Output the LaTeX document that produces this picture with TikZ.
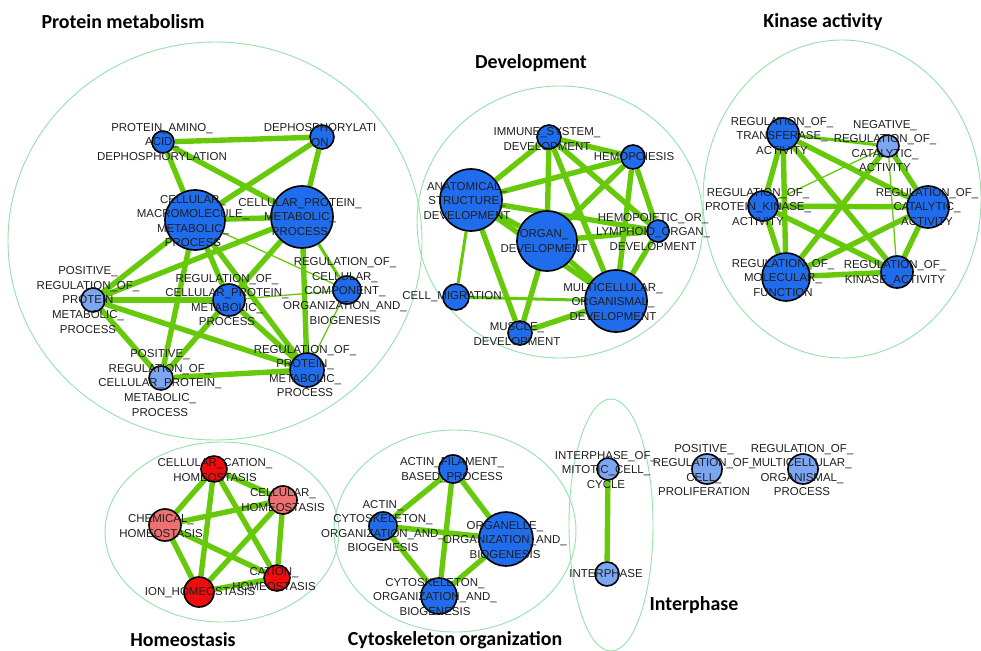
\documentclass[tikz,border=0pt]{standalone}
\usepackage{fontspec}
\setmainfont{Liberation Sans}
\newfontfamily\ttlfont{Carlito}
\usepackage{tikz}
\pgfdeclarelayer{bg}
\pgfsetlayers{bg,main}
\definecolor{dkblue}{RGB}{31,108,236}
\definecolor{ltblue}{RGB}{124,166,242}
\definecolor{dkred}{RGB}{238,12,12}
\definecolor{ltred}{RGB}{238,112,112}
\definecolor{edgegreen}{RGB}{102,202,10}
\definecolor{ringgreen}{RGB}{150,226,172}
\definecolor{txtgray}{RGB}{30,30,30}
\tikzset{
    gnode/.style={circle,draw=black,line width=1.4pt,inner sep=0pt,minimum size=#1*0.06cm},
    dk/.style={gnode=#1,fill=dkblue},
    lt/.style={gnode=#1,fill=ltblue},
    rd/.style={gnode=#1,fill=dkred},
    pk/.style={gnode=#1,fill=ltred},
    lb/.style={align=center,inner sep=0pt,text=txtgray,font=\fontsize{9.8}{12.4}\selectfont},
    ttl/.style={inner sep=0pt,font=\ttlfont\bfseries\fontsize{17}{20}\selectfont},
    fat/.style={edgegreen,line width=4.6pt},
    mid/.style={edgegreen,line width=2.6pt},
    slim/.style={edgegreen,line width=1.1pt},
    ring/.style={ringgreen,line width=0.8pt}
}

\begin{document}
\begin{tikzpicture}[x=0.03cm,y=-0.03cm]
\useasboundingbox (0,0) rectangle (981,651);
% cluster titles
\node (tprot) at (123,22)[ttl]{Protein metabolism};
\node (tdev) at (531,63)[ttl]{Development};
\node (tkin) at (823,22)[ttl]{Kinase activity};
\node (thom) at (183,640)[ttl]{Homeostasis};
\node (tcyt) at (455,640)[ttl]{Cytoskeleton organization};
\node (tint) at (694,605)[ttl]{Interphase};

% protein metabolism
\node (paad) at (163,142)[dk=11]{};
\node (deph) at (322,137)[dk=12]{};
\node (cmmp) at (195,220)[dk=30]{};
\node (cpmp) at (302,217)[dk=31]{};
\node (rccob) at (347,290)[dk=14]{};
\node (prpmp) at (93,300)[lt=12]{};
\node (rcpmp) at (229,300)[dk=16]{};
\node (prcpmp) at (161,378)[lt=12]{};
\node (rpmp) at (307,370)[dk=17]{};
\node (paad-l) at (162,142)[lb]{PROTEIN\_AMINO\_\\ACID\_\\DEPHOSPHORYLATION};
\node (deph-l) at (320,135)[lb]{DEPHOSPHORYLATI\\ON};
\node (cmmp-l) at (193,221)[lb]{CELLULAR\_\\MACROMOLECULE\_\\METABOLIC\_\\PROCESS};
\node (cpmp-l) at (300,217)[lb]{CELLULAR\_PROTEIN\_\\METABOLIC\_\\PROCESS};
\node (rccob-l) at (345,291)[lb]{REGULATION\_OF\_\\CELLULAR\_\\COMPONENT\_\\ORGANIZATION\_AND\_\\BIOGENESIS};
\node (prpmp-l) at (88,300)[lb]{POSITIVE\_\\REGULATION\_OF\_\\PROTEIN\\METABOLIC\_\\PROCESS};
\node (rcpmp-l) at (227,300)[lb]{REGULATION\_OF\_\\CELLULAR\_PROTEIN\_\\METABOLIC\_\\PROCESS};
\node (prcpmp-l) at (160,383)[lb]{POSITIVE\_\\REGULATION\_OF\_\\CELLULAR\_PROTEIN\_\\METABOLIC\_\\PROCESS};
\node (rpmp-l) at (305,371)[lb]{REGULATION\_OF\_\\PROTEIN\_\\METABOLIC\_\\PROCESS};

% development
\node (isd) at (549,137)[dk=12]{};
\node (hem) at (633,157)[dk=12]{};
\node (asd) at (471,200)[dk=31]{};
\node (org) at (547,241)[dk=30]{};
\node (holod) at (658,231)[dk=11]{};
\node (cm) at (456,297)[dk=13]{};
\node (mod) at (616,301)[dk=31]{};
\node (mus) at (520,333)[dk=12]{};
\node (isd-l) at (547,139)[lb]{IMMUNE\_SYSTEM\_\\DEVELOPMENT};
\node (hem-l) at (634,157)[lb]{HEMOPOIESIS};
\node (asd-l) at (467,201)[lb]{ANATOMICAL\_\\STRUCTURE\_\\DEVELOPMENT};
\node (org-l) at (544,241)[lb]{ORGAN\_\\DEVELOPMENT};
\node (holod-l) at (653,232)[lb]{HEMOPOIETIC\_OR\_\\LYMPHOID\_ORGAN\_\\DEVELOPMENT};
\node (cm-l) at (452,297)[lb]{CELL\_MIGRATION};
\node (mod-l) at (613,302)[lb]{MULTICELLULAR\_\\ORGANISMAL\_\\DEVELOPMENT};
\node (mus-l) at (517,334)[lb]{MUSCLE\_\\DEVELOPMENT};

% kinase activity
\node (rta) at (783,134)[dk=16]{};
\node (nrca) at (888,146)[lt=11]{};
\node (rpka) at (763,206)[dk=15]{};
\node (rca) at (928,207)[dk=21]{};
\node (rmf) at (786,277)[dk=24]{};
\node (rka) at (897,272)[dk=16]{};
\node (rta-l) at (782,136)[lb]{REGULATION\_OF\_\\TRANSFERASE\_\\ACTIVITY};
\node (nrca-l) at (885,146)[lb]{NEGATIVE\_\\REGULATION\_OF\_\\CATALYTIC\_\\ACTIVITY};
\node (rpka-l) at (758,207)[lb]{REGULATION\_OF\_\\PROTEIN\_KINASE\_\\ACTIVITY};
\node (rca-l) at (927,207)[lb]{REGULATION\_OF\_\\CATALYTIC\_\\ACTIVITY};
\node (rmf-l) at (783,278)[lb]{REGULATION\_OF\_\\MOLECULAR\_\\FUNCTION};
\node (rka-l) at (895,273)[lb]{REGULATION\_OF\_\\KINASE\_ACTIVITY};

% homeostasis
\node (cch) at (214,469)[rd=13]{};
\node (chs) at (283,500)[pk=14]{};
\node (chem) at (165,525)[pk=16]{};
\node (cat) at (277,578)[rd=13]{};
\node (ion) at (199,592)[rd=15]{};
\node (cch-l) at (215,470)[lb]{CELLULAR\_CATION\_\\HOMEOSTASIS};
\node (chs-l) at (283,500)[lb]{CELLULAR\_\\HOMEOSTASIS};
\node (chem-l) at (161,526)[lb]{CHEMICAL\_\\HOMEOSTASIS};
\node (cat-l) at (274,579)[lb]{CATION\_\\HOMEOSTASIS};
\node (ion-l) at (200,593)[lb]{ION\_HOMEOSTASIS};

% cytoskeleton
\node (afbp) at (453,469)[dk=14]{};
\node (acob) at (383,526)[dk=14]{};
\node (oob) at (506,539)[dk=27]{};
\node (cob) at (439,596)[dk=18]{};
\node (afbp-l) at (452,470)[lb]{ACTIN\_FILAMENT\_\\BASED\_PROCESS};
\node (acob-l) at (383,526)[lb]{ACTIN\_\\CYTOSKELETON\_\\ORGANIZATION\_AND\_\\BIOGENESIS};
\node (oob-l) at (505,540)[lb]{ORGANELLE\_\\ORGANIZATION\_AND\_\\BIOGENESIS};
\node (cob-l) at (435,597)[lb]{CYTOSKELETON\_\\ORGANIZATION\_AND\_\\BIOGENESIS};

% interphase and loose terms
\node (imcc) at (608,469)[lt=11]{};
\node (intp) at (607,574)[lt=12]{};
\node (prcp) at (707,469)[lt=15]{};
\node (rmop) at (803,469)[lt=15]{};
\node (imcc-l) at (606,470)[lb]{INTERPHASE\_OF\_\\MITOTIC\_CELL\_\\CYCLE};
\node (intp-l) at (606,574)[lb]{INTERPHASE};
\node (prcp-l) at (704,470)[lb]{POSITIVE\_\\REGULATION\_OF\_\\CELL\_\\PROLIFERATION};
\node (rmop-l) at (802,470)[lb]{REGULATION\_OF\_\\MULTICELLULAR\_\\ORGANISMAL\_\\PROCESS};

\begin{pgfonlayer}{bg}
% cluster rings
\draw[ring] (215,241) ellipse (207 and 199);
\draw[ring] (560,222) ellipse (143 and 136);
\draw[ring] (842,199) ellipse (139 and 159);
\draw[ring] (222,532) ellipse (117 and 90);
\draw[ring] (455,531) ellipse (121 and 101);
\draw[ring] (611,525) ellipse (42 and 126);

% protein metabolism edges
\draw[fat] (paad) -- (deph);
\draw[fat] (paad) -- (cmmp);
\draw[fat] (paad) -- (cpmp);
\draw[fat] (deph) -- (cmmp);
\draw[fat] (deph) -- (cpmp);
\draw[fat] (cmmp) -- (cpmp);
\draw[fat] (cmmp) -- (prpmp);
\draw[fat] (cmmp) -- (rcpmp);
\draw[fat] (cmmp) -- (prcpmp);
\draw[fat] (cmmp) -- (rpmp);
\draw[slim] (cmmp) -- (rccob);
\draw[fat] (cpmp) -- (prpmp);
\draw[fat] (cpmp) -- (rcpmp);
\draw[fat] (cpmp) -- (rpmp);
\draw[mid] (cpmp) -- (rccob);
\draw[fat] (prpmp) -- (rcpmp);
\draw[fat] (prpmp) -- (rpmp);
\draw[fat] (prpmp) -- (prcpmp);
\draw[fat] (rcpmp) -- (rpmp);
\draw[fat] (rcpmp) -- (prcpmp);
\draw[slim] (rcpmp) -- (rccob);
\draw[fat] (prcpmp) -- (rpmp);
\draw[slim] (rccob) -- (rpmp);

% development edges
\draw[fat] (isd) -- (hem);
\draw[fat] (isd) -- (asd);
\draw[fat] (isd) -- (org);
\draw[fat] (isd) -- (mod);
\draw[fat] (isd) -- (holod);
\draw[fat] (hem) -- (asd);
\draw[fat] (hem) -- (org);
\draw[fat] (hem) -- (mod);
\draw[fat] (hem) -- (holod);
\draw[fat] (asd) -- (org);
\draw[fat] (asd) -- (holod);
\draw[fat] (asd) -- (mod);
\draw[fat] (asd) -- (mus);
\draw[mid] (asd) -- (cm);
\draw[fat] (org) -- (holod);
\draw[fat] (org) -- (mod);
\draw[fat] (org) -- (mus);
\draw[fat] (holod) -- (mod);
\draw[fat] (mus) -- (mod);
\draw[mid] (cm) -- (mod);

% kinase edges
\draw[mid] (rta) -- (nrca);
\draw[fat] (rta) -- (rpka);
\draw[fat] (rta) -- (rmf);
\draw[fat] (rta) -- (rca);
\draw[fat] (rta) -- (rka);
\draw[slim] (nrca) -- (rpka);
\draw[fat] (nrca) -- (rmf);
\draw[fat] (nrca) -- (rca);
\draw[slim] (nrca) -- (rka);
\draw[fat] (rpka) -- (rca);
\draw[fat] (rpka) -- (rmf);
\draw[fat] (rpka) -- (rka);
\draw[fat] (rca) -- (rmf);
\draw[fat] (rca) -- (rka);
\draw[fat] (rmf) -- (rka);

% homeostasis edges
\draw[fat] (cch) -- (chs);
\draw[fat] (cch) -- (chem);
\draw[fat] (cch) -- (cat);
\draw[fat] (cch) -- (ion);
\draw[fat] (chs) -- (chem);
\draw[fat] (chs) -- (ion);
\draw[fat] (chs) -- (cat);
\draw[fat] (chem) -- (cat);
\draw[fat] (chem) -- (ion);
\draw[fat] (cat) -- (ion);

% cytoskeleton edges
\draw[fat] (afbp) -- (acob);
\draw[fat] (afbp) -- (oob);
\draw[fat] (afbp) -- (cob);
\draw[fat] (acob) -- (oob);
\draw[fat] (acob) -- (cob);
\draw[fat] (oob) -- (cob);

% interphase edge
\draw[fat] (imcc) -- (intp);
\end{pgfonlayer}
\end{tikzpicture}
\end{document}
